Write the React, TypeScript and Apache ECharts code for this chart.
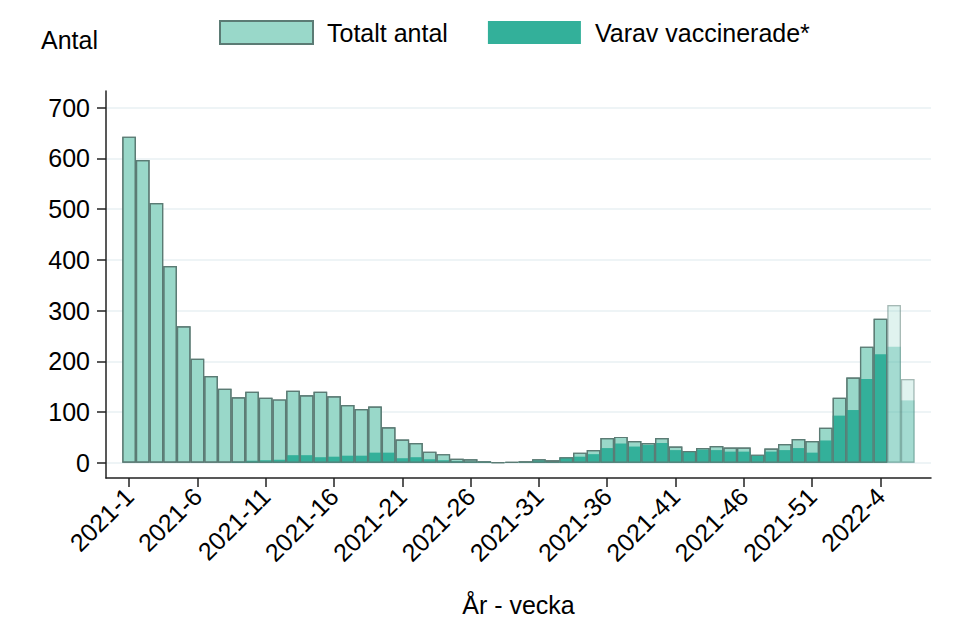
import React, { useEffect, useRef } from 'react';
import * as echarts from 'echarts';

const weeks = [
  '2021-1', '2021-2', '2021-3', '2021-4', '2021-5', '2021-6', '2021-7', '2021-8', '2021-9', '2021-10',
  '2021-11', '2021-12', '2021-13', '2021-14', '2021-15', '2021-16', '2021-17', '2021-18', '2021-19', '2021-20',
  '2021-21', '2021-22', '2021-23', '2021-24', '2021-25', '2021-26', '2021-27', '2021-28', '2021-29', '2021-30',
  '2021-31', '2021-32', '2021-33', '2021-34', '2021-35', '2021-36', '2021-37', '2021-38', '2021-39', '2021-40',
  '2021-41', '2021-42', '2021-43', '2021-44', '2021-45', '2021-46', '2021-47', '2021-48', '2021-49', '2021-50',
  '2021-51', '2021-52', '2022-1', '2022-2', '2022-3', '2022-4', '2022-5', '2022-6',
];

const totalCases = [
  643, 597, 512, 388, 269, 205, 171, 146, 129, 140,
  128, 125, 142, 133, 140, 131, 114, 106, 111, 70,
  46, 39, 22, 17, 8, 7, 3, 1, 2, 3,
  7, 5, 11, 20, 25, 49, 51, 43, 39, 49,
  32, 23, 29, 33, 30, 30, 16, 28, 37, 47,
  43, 69, 128, 168, 229, 284, 311, 165,
];

const vaccinatedCases = [
  0, 0, 0, 0, 0, 0, 0, 0, 2, 4,
  5, 6, 15, 15, 11, 12, 14, 14, 20, 20,
  9, 11, 7, 5, 3, 2, 2, 0, 1, 1,
  5, 3, 10, 12, 17, 29, 38, 32, 35, 39,
  25, 22, 26, 25, 22, 22, 14, 22, 25, 29,
  20, 44, 93, 104, 165, 214, 229, 123,
];

const preliminaryWeeks = ['2022-5', '2022-6'];
const xTickLabels = ['2021-1', '2021-6', '2021-11', '2021-16', '2021-21', '2021-26', '2021-31', '2021-36', '2021-41', '2021-46', '2021-51', '2022-4'];
const yTicks = [0, 100, 200, 300, 400, 500, 600, 700];

const FONT = "'Liberation Sans', Arial, Helvetica, sans-serif";
const TOTAL_COLOR = '#99d8c9';
const VACC_COLOR = '#33b09a';
const BORDER_COLOR = '#5b7b74';

export default function App() {
  const ref = useRef<HTMLDivElement>(null);

  useEffect(() => {
    if (!ref.current) return;
    const chart = echarts.init(ref.current, undefined, { renderer: 'svg' });
    const isPrelim = (i: number) => preliminaryWeeks.includes(weeks[i]);
    const build = (vals: number[], op: number) =>
      vals.map((v, i) => (isPrelim(i) ? { value: [i, v], itemStyle: { opacity: op } } : { value: [i, v] }));
    const xTickIdx = xTickLabels.map((l) => weeks.indexOf(l));

    chart.setOption({
      animation: false,
      textStyle: { fontFamily: FONT },
      grid: { left: 106, right: 45, top: 91, bottom: 140, containLabel: false, outerBoundsMode: 'none' },
      legend: {
        data: ['Totalt antal', 'Varav vaccinerade*'],
        left: 214,
        top: 15,
        icon: 'rect',
        itemWidth: 93,
        itemHeight: 23,
        itemGap: 40,
        selectedMode: false,
        textStyle: { fontFamily: FONT, fontSize: 25, color: '#000', padding: [0, 0, 0, 9] },
      },
      graphic: [
        {
          type: 'text',
          left: 41,
          top: 27,
          style: { text: 'Antal', fontFamily: FONT, fontSize: 25, fill: '#000' },
        },
      ],
      xAxis: {
        type: 'value',
        min: -1.69,
        max: 58.7,
        name: 'År - vecka',
        nameLocation: 'middle',
        nameGap: 114,
        nameTextStyle: { fontFamily: FONT, fontSize: 25, color: '#000' },
        axisLine: { show: true, onZero: false, lineStyle: { color: '#222', width: 1.5 } },
        axisTick: { show: true, customValues: xTickIdx, length: 9, lineStyle: { color: '#222', width: 1.5 } },
        axisLabel: {
          customValues: xTickIdx,
          rotate: 45,
          margin: 14,
          fontFamily: FONT,
          fontSize: 25,
          color: '#000',
          formatter: (v: number) => weeks[Math.round(v)] ?? '',
        },
        splitLine: { show: false },
      },
      yAxis: {
        type: 'value',
        min: -30,
        max: 733,
        axisLine: { show: true, onZero: false, lineStyle: { color: '#222', width: 1.5 } },
        axisTick: { show: true, customValues: yTicks, length: 9, lineStyle: { color: '#222', width: 1.5 } },
        axisLabel: {
          customValues: yTicks,
          margin: 16,
          fontFamily: FONT,
          fontSize: 25,
          color: '#000',
        },
        splitLine: { show: true, lineStyle: { color: '#e9f0f3', width: 1.5 } },
      },
      series: [
        {
          name: 'Totalt antal',
          type: 'bar',
          barWidth: 13.65,
          barGap: '-100%',
          data: build(totalCases, 0.3),
          itemStyle: { color: TOTAL_COLOR, borderColor: BORDER_COLOR, borderWidth: 1.2 },
        },
        {
          name: 'Varav vaccinerade*',
          type: 'bar',
          barWidth: 13.65,
          barGap: '-100%',
          data: build(vaccinatedCases, 0.35),
          itemStyle: { color: VACC_COLOR, borderWidth: 0 },
        },
        {
          name: 'outline',
          type: 'bar',
          barWidth: 13.65,
          barGap: '-100%',
          data: build(totalCases, 0.3),
          itemStyle: { color: 'rgba(0,0,0,0)', borderColor: BORDER_COLOR, borderWidth: 1.2 },
        },
      ],
    });
    return () => chart.dispose();
  }, []);

  return <div ref={ref} style={{ position: 'fixed', left: 0, top: 0, width: 976, height: 618, background: '#fff' }} />;
}
